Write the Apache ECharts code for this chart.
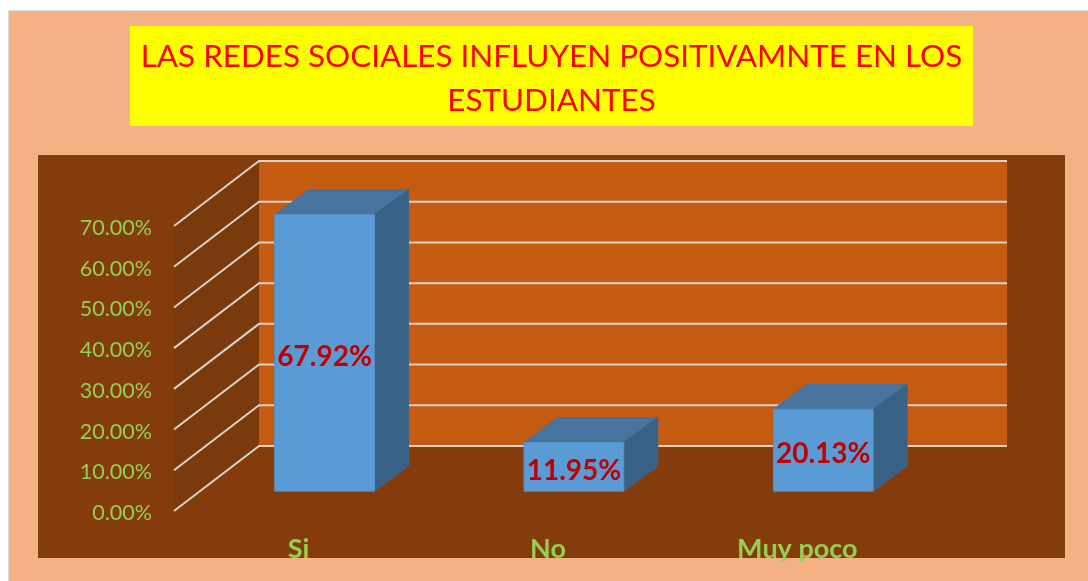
<!DOCTYPE html>
<html>
<head>
<meta charset="utf-8">
<style>html,body{margin:0;padding:0;background:#fff}#c{width:1088px;height:581px}</style>
<script src="https://cdn.jsdelivr.net/npm/echarts@6/dist/echarts.min.js"></script>
</head>
<body>
<div id="c"></div>
<script>
const titleText = 'LAS REDES SOCIALES INFLUYEN POSITIVAMNTE EN LOS\nESTUDIANTES';
const categories = ['Si', 'No', 'Muy poco'];
const values = [67.92, 11.95, 20.13];
const tickValues = [0, 10, 20, 30, 40, 50, 60, 70];

const DEPTH_X = 85, DEPTH_Y = -65;
const FONT = 'Lato, Carlito, Calibri, sans-serif';

const chart = echarts.init(document.getElementById('c'), null, {renderer: 'canvas'});

function wallsItem(params, api) {
  const cs = params.coordSys;
  const y0 = api.coord([0, 0])[1];
  const y1 = api.coord([0, 70])[1];
  const L = cs.x, R = cs.x + cs.width;
  return {type: 'group', children: [
    {type: 'polygon', shape: {points: [[L, y1], [L + DEPTH_X, y1 + DEPTH_Y], [L + DEPTH_X, y0 + DEPTH_Y], [L, y0]]},
     style: {fill: '#7b3a0b'}},
    {type: 'rect', shape: {x: L + DEPTH_X, y: y1 + DEPTH_Y, width: R - L, height: y0 - y1},
     style: {fill: '#c55a11'}}
  ]};
}
function gridItem(params, api) {
  const cs = params.coordSys;
  const y = api.coord([0, api.value(0)])[1];
  const L = cs.x, R = cs.x + cs.width;
  return {type: 'polyline',
    shape: {points: [[L, y], [L + DEPTH_X, y + DEPTH_Y], [R + DEPTH_X, y + DEPTH_Y]]},
    style: {stroke: '#d8d2cd', fill: null, lineWidth: 2}};
}
function barItem(params, api) {
  const idx = api.value(0), val = api.value(1);
  const base = api.coord([idx, 0]), top = api.coord([idx, val]);
  const w = api.size([1, 0])[0] * 0.4;
  const fx = DEPTH_X * 0.305, fy = DEPTH_Y * 0.305;
  const dx = DEPTH_X * 0.4, dy = DEPTH_Y * 0.385;
  const l = base[0] - w / 2 + fx, r = l + w;
  const b = base[1] + fy, t = top[1] + fy;
  return {type: 'group', children: [
    {type: 'polygon', shape: {points: [[l, t], [l + dx, t + dy], [r + dx, t + dy], [r, t]]},
     style: {fill: '#46749f', stroke: '#44709a', lineWidth: 1}},
    {type: 'polygon', shape: {points: [[r, t], [r + dx, t + dy], [r + dx, b + dy], [r, b]]},
     style: {fill: '#386186', stroke: '#3a6488', lineWidth: 1}},
    {type: 'rect', shape: {x: l, y: t, width: w, height: b - t},
     style: {fill: '#5b9bd5', stroke: '#5590c6', lineWidth: 1}},
    {type: 'text', x: (l + r) / 2, y: (t + b) / 2 + 4,
     style: {text: val.toFixed(2) + '%', fill: '#c00000', font: 'bold 28px ' + FONT, align: 'center', verticalAlign: 'middle'}}
  ]};
}

chart.setOption({
  animation: false,
  backgroundColor: '#ffffff',
  title: {
    text: titleText, left: 551.5, top: 35, textAlign: 'center',
    textStyle: {color: '#ff0000', fontFamily: FONT, fontWeight: 'normal', fontSize: 31.4, lineHeight: 44},
    padding: 0
  },
  graphic: [
    {type: 'rect', z: -3, shape: {x: 8.5, y: 10.5, width: 1100, height: 600},
     style: {fill: '#f4b183', stroke: '#d9d9d9', lineWidth: 1}},
    {type: 'rect', z: -2, shape: {x: 130, y: 26, width: 843, height: 100}, style: {fill: '#ffff00'}},
    {type: 'rect', z: -2, shape: {x: 38, y: 155, width: 1027, height: 403}, style: {fill: '#843c0c'}}
  ],
  grid: {left: 174, top: 226, width: 748, height: 285, containLabel: false},
  xAxis: {
    type: 'category', data: categories,
    axisLine: {show: false}, axisTick: {show: false}, splitLine: {show: false},
    axisLabel: {color: '#92d050', fontFamily: FONT, fontWeight: 'bold', fontSize: 27, margin: 25, interval: 0}
  },
  yAxis: {
    type: 'value', min: 0, max: 70, interval: 10,
    axisLine: {show: false}, axisTick: {show: false}, splitLine: {show: false},
    axisLabel: {color: '#92d050', fontFamily: FONT, fontSize: 21.5, margin: 22, verticalAlign: 'top', lineHeight: 4,
      formatter: v => v.toFixed(2) + '%'}
  },
  series: [
    {type: 'custom', z: 1, silent: true, clip: false, renderItem: wallsItem, data: [[0]], encode: {y: 0}},
    {type: 'custom', z: 2, silent: true, clip: false, renderItem: gridItem, data: tickValues.map(v => [v]), encode: {y: 0}},
    {type: 'custom', z: 3, silent: true, clip: false, renderItem: barItem,
     data: values.map((v, i) => [i, v]), encode: {x: 0, y: 1}}
  ]
});
</script>
</body>
</html>
